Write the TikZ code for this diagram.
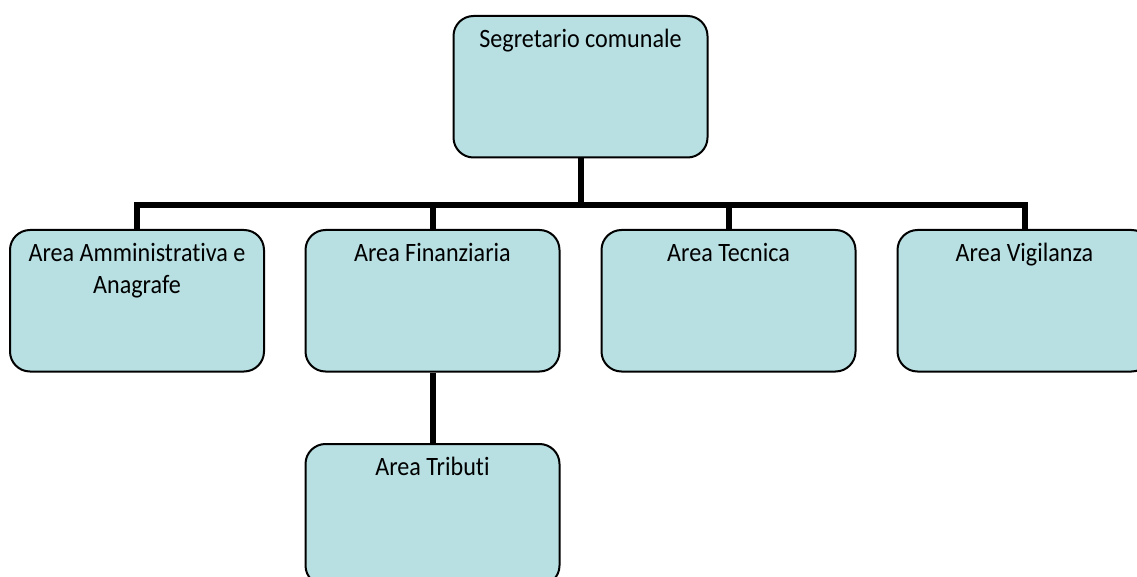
\documentclass[tikz,border=0pt]{standalone}
\usepackage{fontspec}
\setmainfont{Carlito}[FakeStretch=0.91, Ligatures=NoCommon]
\usepackage{xcolor}
\usepackage{tikz}
\usetikzlibrary{calc}
\definecolor{boxblue}{HTML}{B8DFE2}

\begin{document}
\begin{tikzpicture}[x=1pt, y=1pt,
    box/.style={draw=black, line width=2pt, fill=boxblue, rounded corners=20pt,
      anchor=north, minimum width=254pt, text width=240pt, align=flush center,
      inner ysep=14.5pt, text height=17pt, text depth=95.5pt,
      font=\fontsize{26.5pt}{32pt}\selectfont},
    link/.style={draw=black, line width=6pt, line join=miter}]
    \useasboundingbox (0,0) rectangle (1137,-577);
    \clip (0,0) rectangle (1137,-577);
    \node[box] (seg) at (580.5,-15) {Segretario comunale};
    \node[box] (amm) at (137,-229) {Area Amministrativa e\\Anagrafe};
    \node[box] (fin) at (432.5,-229) {Area Finanziaria};
    \node[box] (tec) at (728.5,-229) {Area Tecnica};
    \node[box] (vig) at (1024.5,-229) {Area Vigilanza};
    \node[box] (tri) at (432.5,-443) {Area Tributi};
    \coordinate (bar) at (580.5,-205);
    \path [link] (seg.south) -- (bar);
    \path [link] (amm.north) |- (bar) -| (vig.north);
    \path [link] (fin.north) -- (fin.north |- bar);
    \path [link] (tec.north) -- (tec.north |- bar);
    \path [link] (fin.south) -- (tri.north);
  \end{tikzpicture}
\end{document}
